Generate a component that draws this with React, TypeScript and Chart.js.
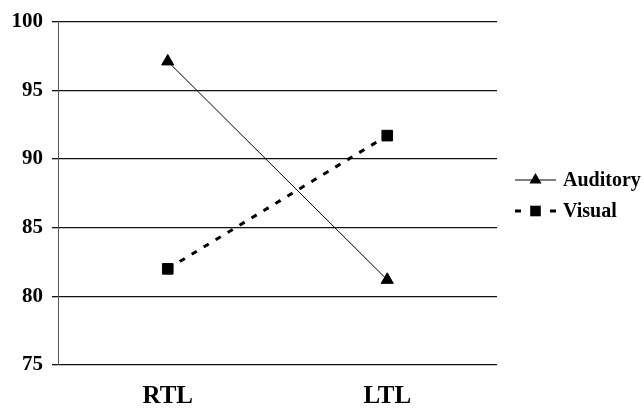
import React, { useEffect, useRef } from "react";
import { Chart, registerables } from "chart.js";

Chart.register(...registerables);

const categories = ["RTL", "LTL"];
const auditory = [97.1, 81.2];
const visual = [82.0, 91.7];
const yTicks = [75, 80, 85, 90, 95, 100];

const FONT = "'Liberation Serif', 'Times New Roman', serif";

const legendPlugin = {
  id: "customLegend",
  afterDraw(chart: any) {
    const ctx = chart.ctx;
    const items = chart.data.datasets;
    ctx.save();
    items.forEach((ds: any, i: number) => {
      const y = 180 + i * 31;
      const x0 = 515;
      const x1 = 556;
      const cx = (x0 + x1) / 2;
      ctx.strokeStyle = ds.borderColor;
      ctx.lineWidth = ds.borderWidth;
      if (ds.borderDash) {
        ctx.beginPath();
        ctx.moveTo(x0, y);
        ctx.lineTo(x0 + 6, y);
        ctx.moveTo(x1 - 6, y);
        ctx.lineTo(x1, y);
        ctx.stroke();
      } else {
        ctx.beginPath();
        ctx.moveTo(x0, y);
        ctx.lineTo(x1, y);
        ctx.stroke();
      }
      ctx.fillStyle = ds.pointBackgroundColor;
      const r = ds.pointRadius;
      if (ds.pointStyle === "triangle") {
        ctx.beginPath();
        ctx.moveTo(cx, y - r);
        ctx.lineTo(cx + r * 0.866, y + r * 0.5);
        ctx.lineTo(cx - r * 0.866, y + r * 0.5);
        ctx.closePath();
        ctx.fill();
      } else {
        const s = r * 0.707;
        ctx.fillRect(cx - s, y - s, 2 * s, 2 * s);
      }
      ctx.fillStyle = "#000";
      ctx.font = `bold 20px ${FONT}`;
      ctx.textBaseline = "middle";
      ctx.textAlign = "left";
      ctx.fillText(ds.label, 563, y + 1);
    });
    ctx.restore();
  },
};

const bgPlugin = {
  id: "bgWhite",
  beforeDraw(chart: any) {
    const ctx = chart.ctx;
    ctx.save();
    ctx.fillStyle = "#fff";
    ctx.fillRect(0, 0, chart.width, chart.height);
    ctx.restore();
  },
};

export default function App() {
  const ref = useRef<HTMLCanvasElement>(null);
  useEffect(() => {
    if (!ref.current) return;
    const chart = new Chart(ref.current, {
      type: "line",
      data: {
        labels: categories,
        datasets: [
          {
            label: "Auditory",
            data: auditory,
            borderColor: "#000",
            borderWidth: 1,
            pointStyle: "triangle",
            pointRadius: 7,
            pointBackgroundColor: "#000",
            pointBorderColor: "#000",
            pointBorderWidth: 1,
            tension: 0,
          },
          {
            label: "Visual",
            data: visual,
            borderColor: "#000",
            borderWidth: 3,
            borderDash: [6, 8],
            pointStyle: "rect",
            pointRadius: 7.5,
            pointBackgroundColor: "#000",
            pointBorderColor: "#000",
            pointBorderWidth: 1,
            tension: 0,
          },
        ] as any,
      },
      options: {
        animation: false,
        responsive: true,
        maintainAspectRatio: false,
        layout: { padding: { left: 0, top: 19, right: 147, bottom: 0 } },
        plugins: {
          legend: { display: false },
          tooltip: { enabled: false },
        },
        scales: {
          x: {
            offset: true,
            grid: { display: false },
            border: { display: false },
            ticks: {
              color: "#000",
              padding: 9,
              font: { family: FONT, size: 25, weight: "bold" },
            },
            afterFit: (s: any) => {
              s.height = 45;
            },
          },
          y: {
            min: 75,
            max: 100,
            afterBuildTicks: (s: any) => {
              s.ticks = yTicks.map((v) => ({ value: v }));
            },
            grid: {
              color: "#111",
              lineWidth: 1.3,
              tickLength: 6,
              drawTicks: true,
            },
            border: { display: true, color: "#555", width: 1 },
            ticks: {
              color: "#000",
              padding: 9,
              font: { family: FONT, size: 21, weight: "bold" },
            },
            afterFit: (s: any) => {
              s.width = 58;
            },
          },
        },
      } as any,
      plugins: [bgPlugin, legendPlugin],
    });
    return () => chart.destroy();
  }, []);
  return (
    <div style={{ position: "absolute", left: 0, top: 0, width: 644, height: 410, background: "#fff" }}>
      <canvas ref={ref} />
    </div>
  );
}
